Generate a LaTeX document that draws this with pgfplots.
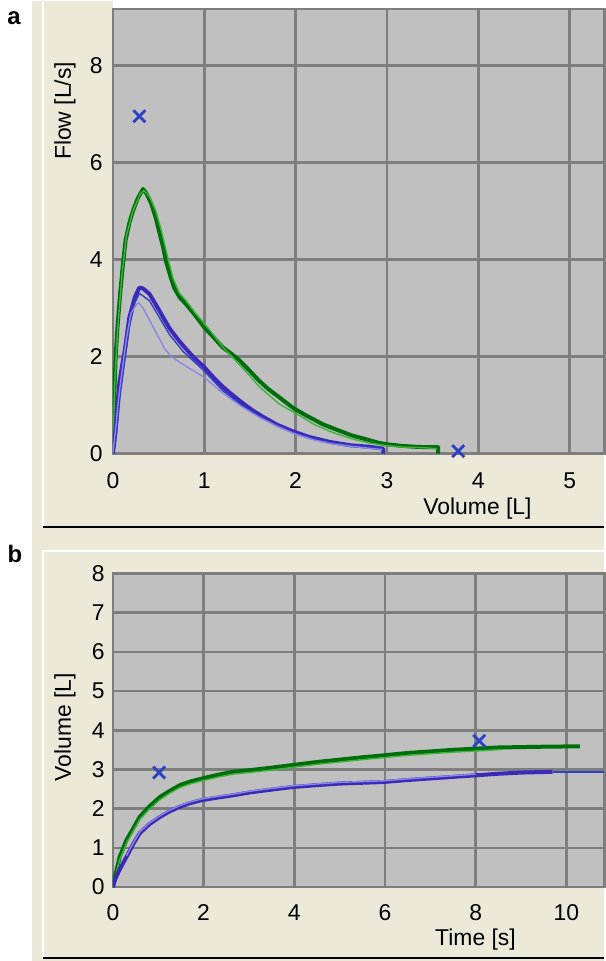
\documentclass[border=0pt]{standalone}
\usepackage{pgfplots}
\pgfplotsset{compat=1.18}
\usepackage{fontspec}
\setmainfont{Liberation Sans}
\definecolor{beige}{HTML}{ECE9D8}
\definecolor{shade}{HTML}{ACA899}
\definecolor{plotbg}{HTML}{C0C0C0}
\definecolor{gridc}{HTML}{7E7E7E}
\definecolor{dgreen}{RGB}{0,110,10}
\definecolor{lgreen}{RGB}{60,180,60}
\definecolor{dblue}{RGB}{60,40,185}
\definecolor{lblue}{RGB}{140,135,230}
\definecolor{mblue}{RGB}{45,65,195}
\pgfplotsset{
  panel/.style={
    scale only axis,
    axis background/.style={fill=plotbg},
    xmajorgrids, ymajorgrids,
    major grid style={draw=gridc, line width=2.6bp},
    axis line style={draw=gridc, line width=2.6bp},
    major tick length=0pt,
    tick style={draw=none},
    /pgf/number format/assume math mode=true,
    ticklabel style={font=\fontsize{23}{24}\selectfont, inner sep=0pt},
    clip mode=individual,
  },
  fatline/.style={line width=4bp, line join=round},
  slimline/.style={line width=1.4bp, line join=round},
}
\begin{document}
\begin{tikzpicture}[x=1bp,y=1bp]
% background frames
\fill[white] (0,0) rectangle (605,961);
\fill[beige] (32,0) rectangle (605,961);
\fill[white] (113,953) rectangle (605,961);
\draw[white, line width=2bp] (43,434) -- (43,961);
\draw[shade, line width=2bp] (43,434) -- (605,434);
\draw[white, line width=2bp] (43,3) -- (43,410) -- (605,410);
\draw[shade, line width=2bp] (43,3) -- (605,3);
\node[font=\fontsize{24}{26}\selectfont\bfseries] at (14,944) {a};
\node[font=\fontsize{24}{26}\selectfont\bfseries] at (15,407) {b};

% panel a
\begin{axis}[panel, at={(113bp,508bp)}, anchor=south west,
  width=492bp, height=445bp,
  xmin=0, xmax=5.38, ymin=0, ymax=9.16,
  xtick={0,1,2,3,4,5}, ytick={0,2,4,6,8},
  xticklabel style={anchor=north, yshift=-19bp},
  yticklabel style={anchor=east, xshift=-10bp},
]
\addplot[dgreen, fatline] coordinates {
(0,0) (0.01,0.9) (0.03,2.0) (0.05,2.6) (0.08,3.3) (0.11,3.9) (0.14,4.4) (0.18,4.75)
(0.22,5.0) (0.27,5.25) (0.33,5.45) (0.37,5.35) (0.42,5.15) (0.47,4.85) (0.51,4.55)
(0.55,4.25) (0.58,3.97) (0.63,3.65) (0.67,3.42) (0.73,3.22) (0.80,3.08) (0.90,2.85)
(1.00,2.6) (1.10,2.4) (1.20,2.19) (1.30,2.05) (1.38,1.93) (1.50,1.7) (1.60,1.5)
(1.70,1.33) (1.82,1.16) (1.98,0.93) (2.10,0.8) (2.20,0.70) (2.30,0.60) (2.41,0.52)
(2.52,0.44) (2.62,0.37) (2.78,0.29) (2.91,0.22) (3.00,0.19) (3.15,0.16) (3.30,0.14)
(3.45,0.13) (3.56,0.13) (3.56,0.0)};
\addplot[lgreen, slimline] coordinates {
(0,0) (0.02,1.4) (0.05,2.5) (0.10,3.7) (0.15,4.5) (0.22,5.0) (0.30,5.35) (0.34,5.42)
(0.40,5.3) (0.47,5.0) (0.53,4.6) (0.60,4.05) (0.66,3.6) (0.73,3.3) (0.80,3.15)
(0.90,2.9) (1.00,2.68) (1.10,2.45) (1.20,2.2) (1.30,2.0) (1.40,1.8) (1.50,1.6)
(1.60,1.38) (1.70,1.22) (1.82,1.02) (1.98,0.85) (2.10,0.72) (2.20,0.6) (2.40,0.44)
(2.60,0.31) (2.80,0.22) (3.00,0.16) (3.20,0.13) (3.40,0.12) (3.55,0.1)};
\addplot[dblue, fatline] coordinates {
(0,0) (0.02,0.3) (0.04,0.75) (0.07,1.44) (0.10,1.8) (0.13,2.12) (0.18,2.8) (0.24,3.22)
(0.29,3.42) (0.33,3.4) (0.40,3.29) (0.46,3.1) (0.51,2.94) (0.57,2.74) (0.62,2.58)
(0.70,2.38) (0.77,2.22) (0.88,1.99) (1.00,1.78) (1.10,1.57) (1.20,1.38) (1.30,1.22)
(1.42,1.04) (1.52,0.9) (1.64,0.76) (1.80,0.59) (1.98,0.45) (2.15,0.34) (2.37,0.24)
(2.60,0.17) (2.80,0.14) (2.96,0.10) (2.96,0)};
\addplot[mblue, slimline] coordinates {
(0.04,0.4) (0.08,1.2) (0.13,1.9) (0.18,2.6) (0.24,3.1) (0.29,3.3) (0.40,3.15)
(0.51,2.8) (0.62,2.45) (0.77,2.1) (1.00,1.7) (1.20,1.3) (1.42,0.98) (1.64,0.72)
(1.98,0.42) (2.37,0.22) (2.80,0.13) (2.95,0.1)};
\addplot[lblue, slimline] coordinates {
(0,0) (0.03,0.5) (0.06,1.1) (0.10,1.7) (0.15,2.4) (0.20,2.9) (0.25,3.05) (0.28,3.11)
(0.33,3.0) (0.40,2.75) (0.50,2.4) (0.57,2.15) (0.65,1.98) (0.80,1.8) (1.00,1.57)
(1.20,1.25) (1.40,0.98) (1.60,0.75) (1.80,0.56) (2.00,0.40) (2.20,0.28) (2.40,0.2)
(2.60,0.15) (2.80,0.11) (2.95,0.08)};
\addplot[only marks, mark=x, mark size=8.5pt, mark options={line width=2.8bp, draw=mblue}] coordinates {(0.29,6.95) (3.78,0.05)};
\end{axis}

% panel b
\begin{axis}[panel, at={(113bp,74bp)}, anchor=south west,
  width=492bp, height=314bp,
  xmin=0, xmax=10.84, ymin=0, ymax=8,
  xtick={0,2,4,6,8,10}, ytick={0,1,2,3,4,5,6,7,8},
  xticklabel style={anchor=north, yshift=-17bp},
  yticklabel style={anchor=east, xshift=-8bp},
]
\addplot[dgreen, fatline] coordinates {
(0,0) (0.05,0.3) (0.08,0.43) (0.15,0.77) (0.30,1.2) (0.45,1.5) (0.59,1.79) (0.80,2.05)
(1.04,2.30) (1.25,2.45) (1.48,2.6) (1.70,2.69) (1.97,2.77) (2.30,2.86) (2.65,2.94)
(3.00,2.98) (3.39,3.03) (3.95,3.11) (4.5,3.19) (5.0,3.25) (5.5,3.31) (5.97,3.36)
(6.5,3.42) (7.0,3.46) (7.5,3.50) (8.0,3.53) (8.5,3.56) (9.0,3.57) (9.5,3.58) (10.3,3.59)};
\addplot[lgreen, slimline] coordinates {
(0,0) (0.08,0.38) (0.15,0.7) (0.30,1.12) (0.45,1.43) (0.59,1.72) (0.80,1.98)
(1.04,2.23) (1.25,2.39) (1.48,2.54) (1.70,2.63) (1.97,2.71) (2.30,2.8) (2.65,2.88)
(3.00,2.92) (3.39,2.97) (3.95,3.05) (4.5,3.13) (5.0,3.19) (5.5,3.25) (5.97,3.3)
(6.5,3.36) (7.0,3.40) (7.5,3.44) (8.0,3.47) (8.6,3.51)};
\addplot[dblue, fatline] coordinates {
(0,0) (0.05,0.2) (0.15,0.45) (0.30,0.77) (0.45,1.1) (0.59,1.37) (0.80,1.6) (1.04,1.79)
(1.25,1.93) (1.48,2.05) (1.70,2.14) (1.97,2.22) (2.30,2.28) (2.65,2.34) (3.00,2.41)
(3.39,2.47) (3.95,2.55) (4.5,2.6) (5.0,2.64) (5.5,2.66) (5.97,2.68) (6.5,2.73)
(7.0,2.77) (7.5,2.81) (8.0,2.85) (8.5,2.89) (9.0,2.92) (9.7,2.94)};
\addplot[lblue, slimline] coordinates {
(0.30,0.8) (0.45,1.13) (0.59,1.4) (0.80,1.63) (1.04,1.82) (1.25,1.96) (1.48,2.08)
(1.70,2.17) (1.97,2.25) (2.30,2.31) (2.65,2.37) (3.00,2.44) (3.39,2.5) (3.95,2.58)
(4.5,2.63) (5.0,2.67) (5.5,2.69) (5.97,2.71) (6.5,2.76) (7.0,2.8) (7.5,2.84) (8.0,2.88)};
\addplot[mblue, line width=1.6bp] coordinates {(9.7,2.94) (10.84,2.94)};
\addplot[only marks, mark=x, mark size=8.5pt, mark options={line width=2.8bp, draw=mblue}] coordinates {(1.02,2.92) (8.08,3.73)};
\end{axis}

% axis labels
\node[rotate=90, font=\fontsize{23}{24}\selectfont] at (65,851) {Flow [L/s]};
\node[font=\fontsize{23}{24}\selectfont] at (478,453) {Volume [L]};
\node[rotate=90, font=\fontsize{23}{24}\selectfont] at (65,234) {Volume [L]};
\node[font=\fontsize{23}{24}\selectfont] at (476,21) {Time [s]};
\path[use as bounding box] (0,0) rectangle (605,961);
\end{tikzpicture}
\end{document}
